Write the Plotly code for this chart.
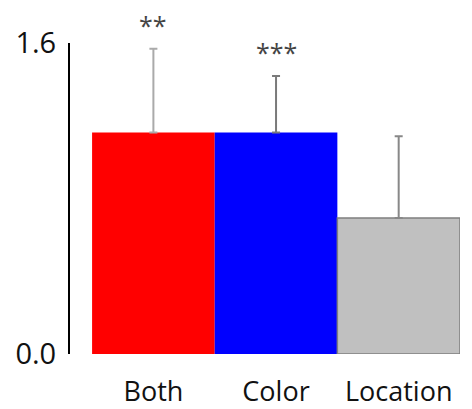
import plotly.graph_objects as go

categories = ["Both", "Color", "Location"]
means = [1.14, 1.14, 0.70]
errors = [0.43, 0.29, 0.42]
significance = ["**", "***", ""]

bar_colors = ["#FF0000", "#0000FF", "#C0C0C0"]
line_colors = ["#FF0000", "#0000FF", "#7F7F7F"]
err_colors = ["#AAAAAA", "#7A7A7A", "#888888"]

fig = go.Figure()
for cat, m, e, bc, lc, ec in zip(categories, means, errors, bar_colors, line_colors, err_colors):
    fig.add_trace(go.Bar(
        x=[cat], y=[m], width=1.0,
        marker=dict(color=bc, line=dict(color=lc, width=1.5 if cat == "Location" else 0)),
        error_y=dict(type="data", array=[e], arrayminus=[0], symmetric=False,
                     color=ec, thickness=2, width=4),
        showlegend=False,
    ))

for cat, m, e, s in zip(categories, means, errors, significance):
    if s:
        fig.add_annotation(x=cat, y=m + e, text=s, showarrow=False, yshift=24,
                           font=dict(family="Open Sans", size=25, color="#444444"))

fig.update_layout(
    width=464, height=401,
    margin=dict(l=62, r=12, t=35, b=55),
    paper_bgcolor="white", plot_bgcolor="white",
    barmode="overlay",
    font=dict(family="Open Sans, Noto Sans, sans-serif", color="#111111"),
    xaxis=dict(type="category", range=[-0.68, 2.5], showline=False, showgrid=False,
               ticks="", tickfont=dict(size=27), ticklabelstandoff=19, zeroline=False,
               automargin=False),
    yaxis=dict(range=[0, 1.6], tickvals=[0, 1.6], ticktext=["0.0", "1.6"], showgrid=False,
               showline=True, linecolor="black", linewidth=2, ticks="", zeroline=False,
               tickfont=dict(size=29), ticklabelstandoff=6, automargin=False),
)

fig.write_html("out.html")
